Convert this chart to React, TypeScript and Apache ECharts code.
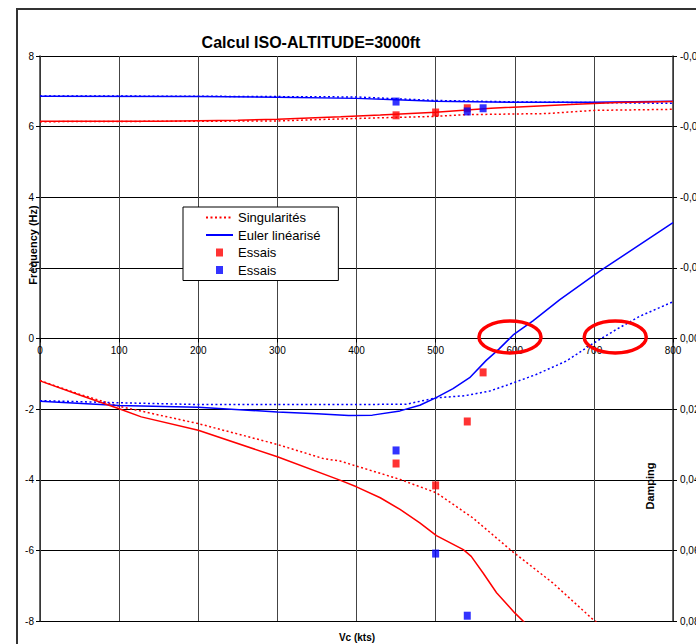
import React, { useEffect, useRef } from 'react';
import * as echarts from 'echarts';

const FONT = "'Liberation Sans', Arial, sans-serif";

const chartTitle = 'Calcul ISO-ALTITUDE=3000ft';
const xName = 'Vc (kts)';
const yLeftName = 'Frequency (Hz)';
const yRightName = 'Damping';

const speedMin = 0;
const speedMax = 800;
const speedStep = 100;
const freqMin = -8;
const freqMax = 8;
const freqStep = 2;
const dampMin = -0.08;
const dampMax = 0.08;
const dampStep = 0.02;

// Frequency (Hz) – left axis
const singFreqMode1 = [[0, 6.14], [300, 6.16], [350, 6.2], [430, 6.25], [500, 6.29], [540, 6.34], [640, 6.37], [700, 6.46], [800, 6.49]];
const singFreqMode2 = [[0, 6.87], [200, 6.86], [400, 6.84], [450, 6.79], [500, 6.74], [600, 6.7], [700, 6.68], [800, 6.66]];
const eulerFreqMode1 = [[0, 6.15], [150, 6.15], [250, 6.18], [300, 6.21], [380, 6.28], [430, 6.33], [500, 6.41], [570, 6.52], [670, 6.63], [730, 6.68], [800, 6.71]];
const eulerFreqMode2 = [[0, 6.86], [200, 6.85], [300, 6.83], [400, 6.8], [450, 6.76], [500, 6.72], [600, 6.69], [700, 6.69], [800, 6.72]];

// Damping – right axis (inverted)
const singDampMode1 = [[0, 0.0119], [50, 0.0158], [100, 0.0192], [200, 0.0241], [300, 0.03], [358, 0.034], [379, 0.0347], [455, 0.0399], [501, 0.0437], [547, 0.0508], [598, 0.0605], [648, 0.0692], [699, 0.0796], [705, 0.0805]];
const singDampMode2 = [[0, 0.0176], [100, 0.0182], [200, 0.0187], [400, 0.0187], [463, 0.0186], [501, 0.0168], [537, 0.0162], [568, 0.0149], [589, 0.0133], [627, 0.0102], [665, 0.0064], [699, 0.0014], [728, -0.0025], [758, -0.0063], [800, -0.0104]];
const eulerDampMode1 = [[0, 0.012], [50, 0.016], [100, 0.0199], [128, 0.0222], [200, 0.026], [300, 0.0335], [379, 0.0401], [400, 0.042], [430, 0.0451], [455, 0.0484], [480, 0.0522], [501, 0.0558], [535, 0.0598], [545, 0.0617], [560, 0.0664], [577, 0.072], [600, 0.0777], [615, 0.081]];
const eulerDampMode2 = [[0, 0.0178], [100, 0.019], [200, 0.0195], [300, 0.0208], [350, 0.0213], [390, 0.0218], [420, 0.0217], [455, 0.0205], [480, 0.0189], [500, 0.0168], [522, 0.0142], [543, 0.0111], [564, 0.0062], [580, 0.003], [598, -0.001], [623, -0.005], [657, -0.011], [707, -0.019], [800, -0.0328]];

// Tests
const essaisFreqRed = [[450, 6.32], [500, 6.4], [540, 6.52]];
const essaisFreqBlue = [[450, 6.71], [540, 6.43], [560, 6.52]];
const essaisDampRed = [[450, 0.0354], [500, 0.0416], [540, 0.0235], [560, 0.0096]];
const essaisDampBlue = [[450, 0.0317], [500, 0.0609], [540, 0.0785]];

// annotation ellipse centres (speed, frequency)
const annotationCenters = [[594, 0], [727, 0]];

const RED = '#ff0000';
const BLUE = '#0000ff';
const SQUARE_ICON = 'path://M0,0L0,0M27,8L27,8M10,0L17,0L17,8L10,8Z';

const dotted = (color: string) => ({ color, width: 1.5, type: [2, 2.5] as any });
const solid = (color: string) => ({ color, width: 1.5, type: 'solid' as any });

function lineSeries(name: string, data: number[][], color: string, isDotted: boolean, yAxisIndex: number) {
  return {
    type: 'line',
    name,
    data,
    yAxisIndex,
    symbol: 'none',
    showSymbol: false,
    smooth: false,
    color,
    lineStyle: isDotted ? dotted(color) : solid(color),
    z: 3,
  };
}

function scatterSeries(name: string, data: number[][], color: string, yAxisIndex: number) {
  return {
    type: 'scatter',
    name,
    data,
    yAxisIndex,
    symbol: 'rect',
    symbolSize: [7, 8],
    color,
    itemStyle: { color },
    z: 5,
  };
}

const fmtDamp = (v: number) => {
  if (Math.abs(v) < 1e-9) return '0,00';
  return v.toFixed(2).replace('.', ',');
};

export default function App() {
  const ref = useRef<HTMLDivElement>(null);
  useEffect(() => {
    if (!ref.current) return;
    const chart = echarts.init(ref.current, undefined, { renderer: 'svg' });
    const gridTop = 56;
    const gridBottom = 23;
    const plotHeight = 644 - gridTop - gridBottom;
    const option: any = {
      animation: false,
      backgroundColor: '#fff',
      title: {
        text: chartTitle,
        left: 306,
        top: 29,
        textAlign: 'center',
        textStyle: { fontFamily: FONT, fontSize: 16, fontWeight: 'bold', color: '#000' },
      },
      grid: { left: 40, right: 23, top: gridTop, bottom: gridBottom, containLabel: false, outerBoundsMode: 'none' },
      legend: {
        orient: 'vertical',
        left: 183,
        top: 207,
        data: [
          { name: 'Singularités', itemStyle: { opacity: 0 } },
          { name: 'Euler linéarisé', itemStyle: { opacity: 0 } },
          { name: 'Essais rouge', icon: SQUARE_ICON },
          { name: 'Essais bleu', icon: SQUARE_ICON },
        ],
        formatter: (n: string) => (n.indexOf('Essais') === 0 ? 'Essais' : n),
        itemWidth: 27,
        itemHeight: 8,
        itemGap: 4.5,
        itemTextGap: 4,
        padding: [4, 18, 4, 22],
        backgroundColor: '#fff',
        borderColor: '#000',
        borderWidth: 1,
        borderRadius: 0,
        selectedMode: false,
        textStyle: { fontFamily: FONT, fontSize: 13, color: '#000' },
        z: 10,
      },
      xAxis: {
        type: 'value',
        min: speedMin,
        max: speedMax,
        interval: speedStep,
        position: 'bottom',
        offset: -plotHeight / 2,
        axisLine: { onZero: false, lineStyle: { color: '#000', width: 1 } },
        axisTick: { show: true, length: 4, lineStyle: { color: '#000' } },
        axisLabel: { fontFamily: FONT, fontSize: 10, color: '#000', margin: 7, showMinLabel: true, showMaxLabel: true },
        splitLine: { show: true, lineStyle: { color: '#444', width: 1 } },
      },
      yAxis: [
        {
          type: 'value',
          min: freqMin,
          max: freqMax,
          interval: freqStep,
          position: 'left',
          axisLine: { show: true, onZero: false, lineStyle: { color: '#333', width: 1.5 } },
          axisTick: { show: true, length: 4, lineStyle: { color: '#000' } },
          axisLabel: { fontFamily: FONT, fontSize: 10, color: '#000', margin: 6 },
          splitLine: { show: true, lineStyle: { color: '#000', width: 1 } },
        },
        {
          type: 'value',
          min: dampMin,
          max: dampMax,
          interval: dampStep,
          inverse: true,
          position: 'right',
          axisLine: { show: true, onZero: false, lineStyle: { color: '#333', width: 1.5 } },
          axisTick: { show: true, length: 4, lineStyle: { color: '#000' } },
          axisLabel: { fontFamily: FONT, fontSize: 10, color: '#000', margin: 7, formatter: fmtDamp },
          splitLine: { show: false },
        },
      ],
      series: [
        lineSeries('Singularités', singFreqMode1, RED, true, 0),
        lineSeries('Singularités', singFreqMode2, BLUE, true, 0),
        lineSeries('Singularités', singDampMode1, RED, true, 1),
        lineSeries('Singularités', singDampMode2, BLUE, true, 1),
        lineSeries('Euler linéarisé', eulerFreqMode2, BLUE, false, 0),
        lineSeries('Euler linéarisé', eulerFreqMode1, RED, false, 0),
        lineSeries('Euler linéarisé', eulerDampMode2, BLUE, false, 1),
        lineSeries('Euler linéarisé', eulerDampMode1, RED, false, 1),
        scatterSeries('Essais rouge', essaisFreqRed, RED, 0),
        scatterSeries('Essais bleu', essaisFreqBlue, BLUE, 0),
        scatterSeries('Essais rouge', essaisDampRed, RED, 1),
        scatterSeries('Essais bleu', essaisDampBlue, BLUE, 1),
      ],
      graphic: [
        {
          type: 'rect',
          silent: true,
          shape: { x: 17, y: 9, width: 900, height: 900 },
          style: { fill: 'none', stroke: '#333', lineWidth: 2 },
        },
        {
          type: 'text',
          x: 33,
          y: 245,
          rotation: Math.PI / 2,
          style: { text: yLeftName, fontFamily: FONT, fontSize: 11, fontWeight: 'bold', fill: '#000', align: 'center', verticalAlign: 'middle' },
        },
        {
          type: 'text',
          x: 650,
          y: 486,
          rotation: Math.PI / 2,
          style: { text: yRightName, fontFamily: FONT, fontSize: 11, fontWeight: 'bold', fill: '#000', align: 'center', verticalAlign: 'middle' },
        },
        {
          type: 'text',
          x: 357,
          y: 637,
          style: { text: xName, fontFamily: FONT, fontSize: 10, fontWeight: 'bold', fill: '#000', align: 'center', verticalAlign: 'middle' },
        },
      ],
    };
    chart.setOption(option);
    const ellipses = annotationCenters.map((c, i) => {
      const p = chart.convertToPixel({ xAxisIndex: 0, yAxisIndex: 0 }, c) as number[];
      return {
        id: 'ell' + i,
        type: 'ellipse',
        silent: true,
        z: 20,
        shape: { cx: p[0], cy: p[1] - 1.5, rx: 31, ry: 16 },
        style: { fill: 'none', stroke: RED, lineWidth: 3.5 },
      };
    });
    chart.setOption({ graphic: [...option.graphic, ...ellipses] });
    return () => chart.dispose();
  }, []);
  return (
    <div
      ref={ref}
      style={{ position: 'fixed', left: 0, top: 0, width: 696, height: 644 }}
    />
  );
}
